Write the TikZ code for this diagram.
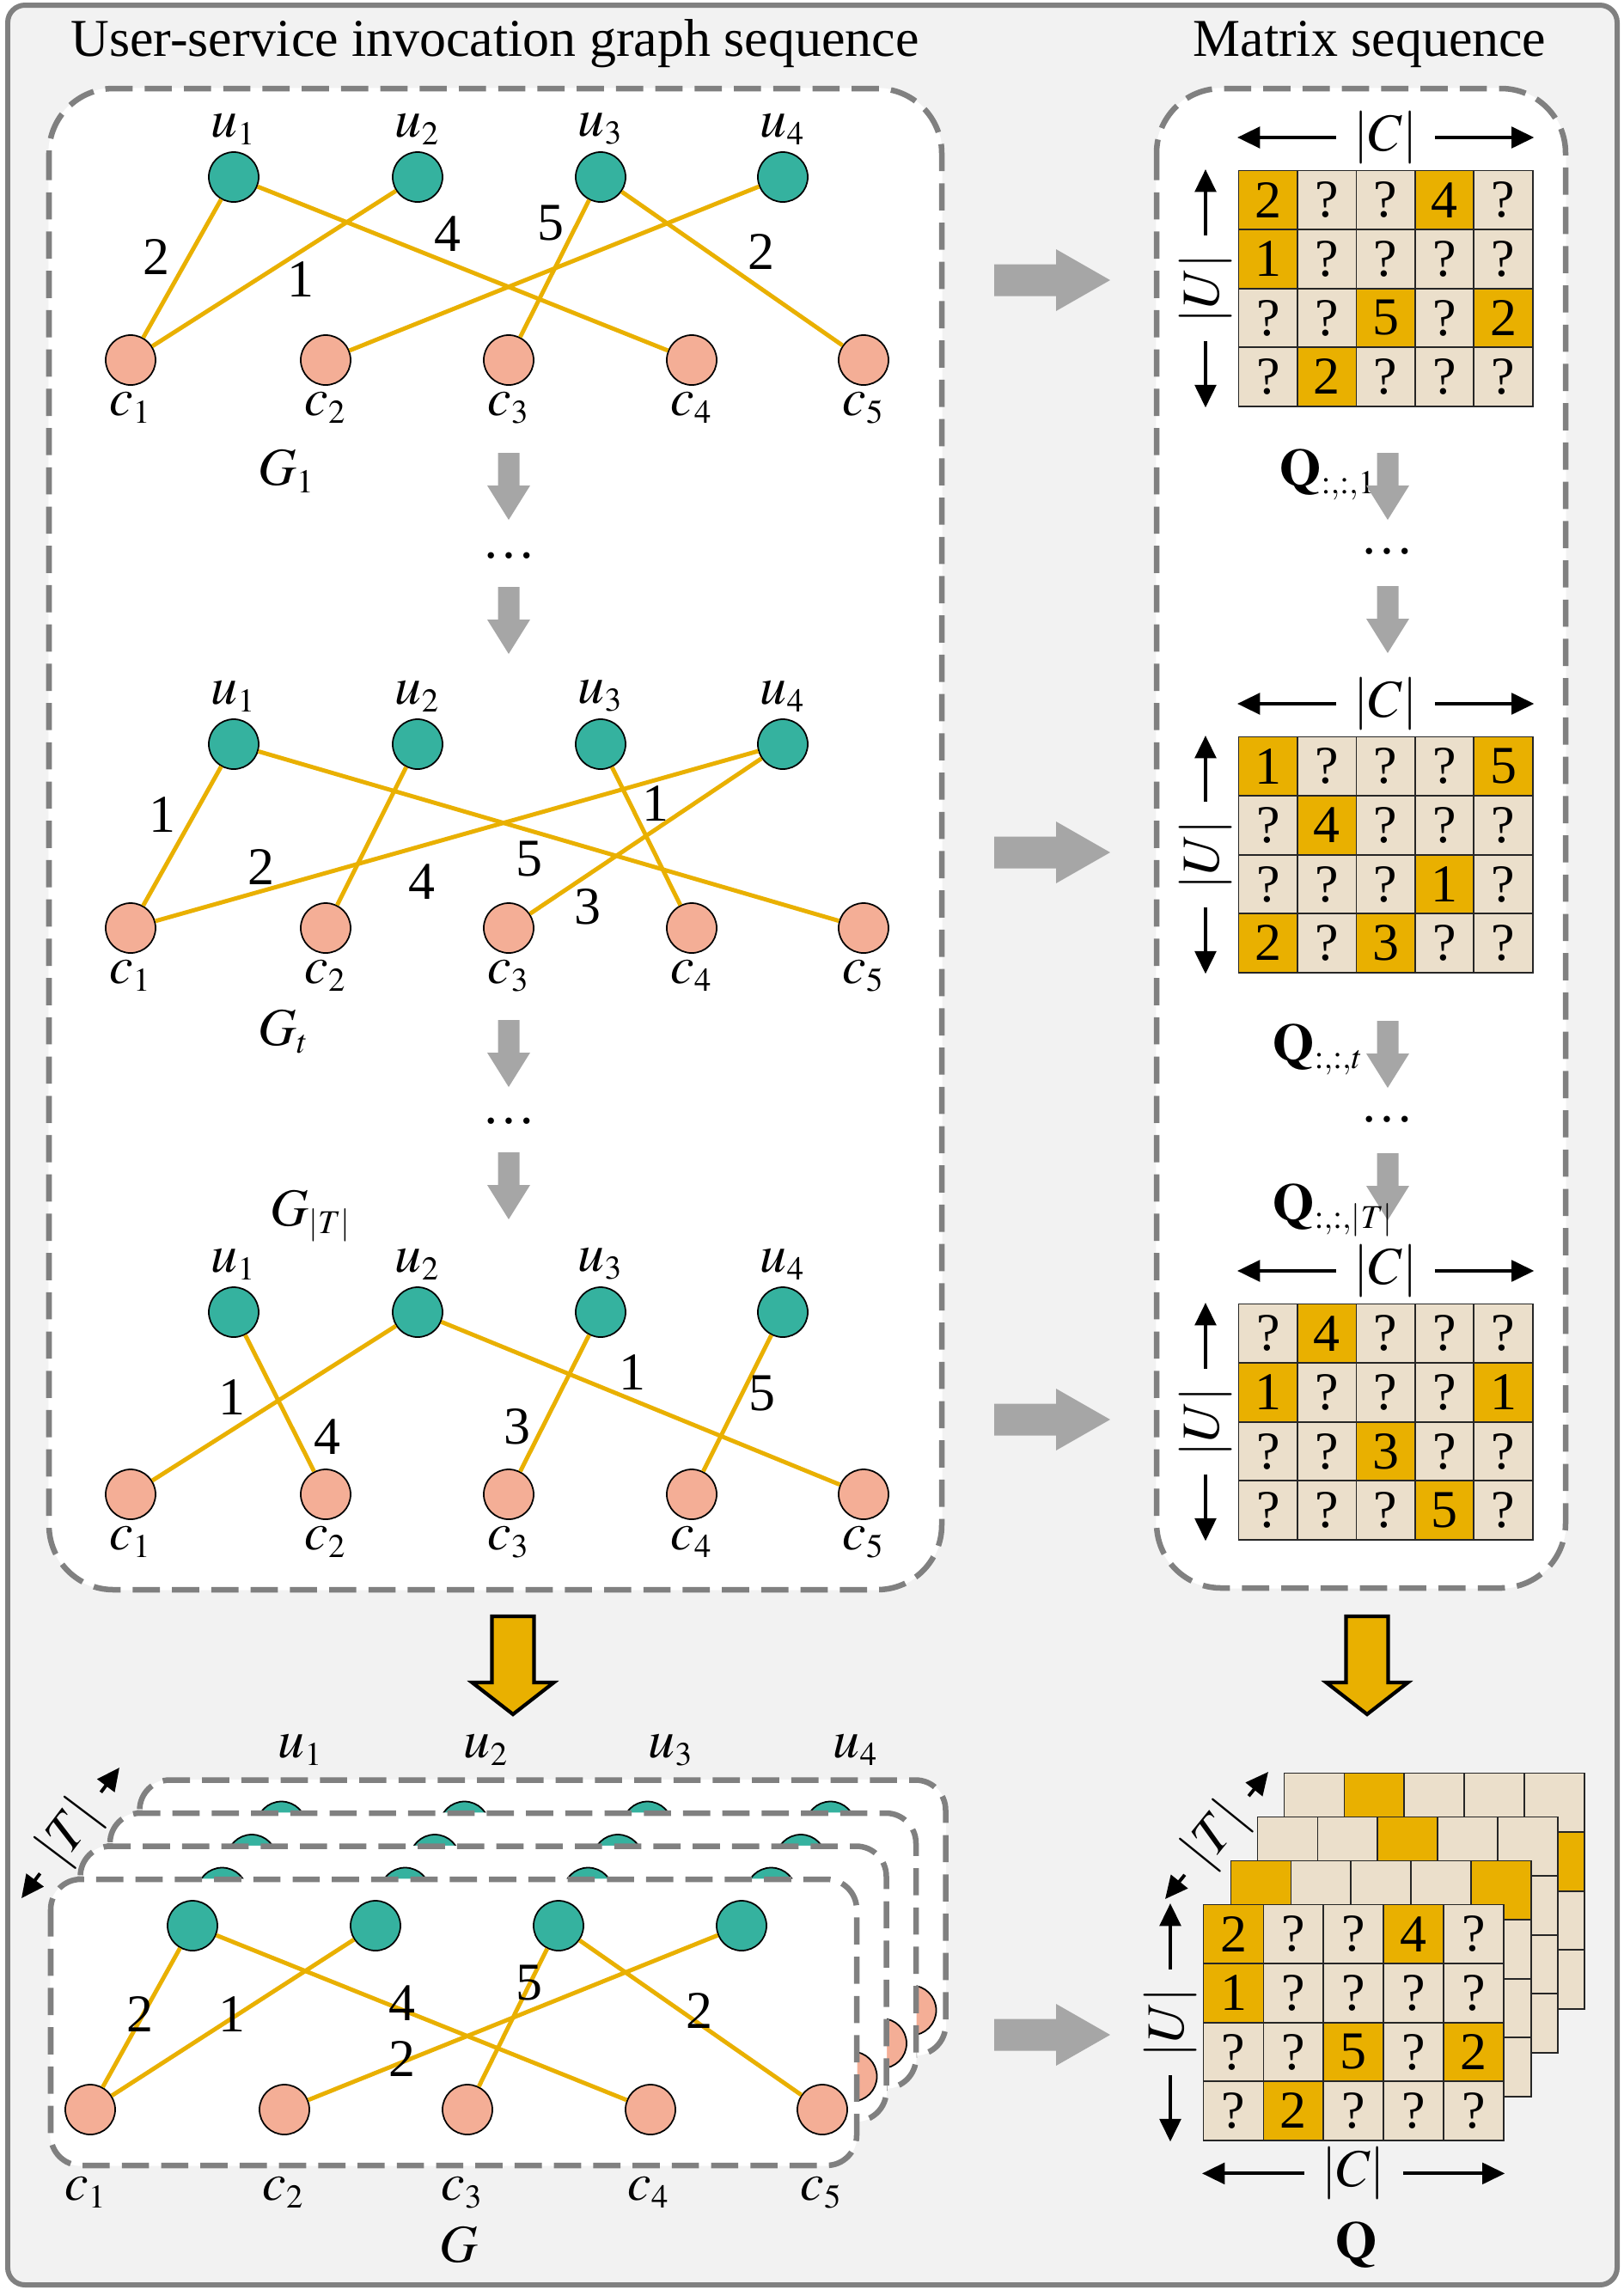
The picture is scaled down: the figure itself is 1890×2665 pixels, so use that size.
\documentclass[tikz,border=0pt]{standalone}
\usepackage{mathptmx}
\usepackage{fontspec}
\setmainfont{Liberation Serif}
\usetikzlibrary{matrix,arrows.meta}
\DeclareMathSizes{17.6}{17.6}{11}{8}

\definecolor{bggray}{HTML}{F2F2F2}
\definecolor{framegray}{HTML}{808080}
\definecolor{arrowgray}{HTML}{A6A6A6}
\definecolor{tealU}{HTML}{35B29F}
\definecolor{salmonC}{HTML}{F4AE96}
\definecolor{gold}{HTML}{E9B000}
\definecolor{cellbeige}{HTML}{EBDFCB}

\begin{document}
\begin{tikzpicture}[x=0.01cm,y=-0.01cm,font=\fontsize{17.6}{21}\selectfont]
      \useasboundingbox (0,0) rectangle (1890,2665);
      % Styles
      \tikzset{VertexU/.style = {circle,draw=black,line width=0.5pt,fill=tealU,minimum size=0.58cm,inner sep=0pt,label distance=0.03cm}}
      \tikzset{VertexC/.style = {VertexU,fill=salmonC,label distance=0.07cm}}
      \tikzset{every label/.style = {inner sep=2pt}}
      \tikzset{EdgeStyle/.style = {draw=gold,line width=1.4pt}}
      \tikzset{Weight/.style = {inner sep=0pt}}
      \tikzset{DashBox/.style = {draw=framegray,line width=1.85pt,dash pattern=on 9pt off 4pt,fill=white,preaction={draw=white,solid}}}
      \tikzset{Cell/.style = {draw=black!85,line width=0.5pt,fill=cellbeige,minimum width=0.684cm,minimum height=0.685cm,inner sep=0pt,anchor=center}}
      \tikzset{CellWide/.style = {Cell,minimum width=0.698cm}}
      \tikzset{Hit/.style = {fill=gold}}
      \tikzset{QMat/.style = {matrix of nodes,nodes={Cell},nodes in empty cells,column sep=-0.5pt,row sep=-0.5pt,inner sep=0pt,anchor=north west}}
      \tikzset{QMatWide/.style = {QMat,nodes={CellWide}}}
      \tikzset{DimLabel/.style = {inner xsep=0.2cm,inner ysep=0pt}}
      \tikzset{DimArrow/.style = {line width=1.1pt,>={Triangle[length=7.5pt,width=7pt]}}}
      \tikzset{DownArrow/.pic = {\fill[arrowgray] (-12.5,0) -- (12.5,0) -- (12.5,38) -- (25,38) -- (0,78) -- (-25,38) -- (-12.5,38) -- cycle;}}
      \tikzset{RightArrow/.pic = {\fill[arrowgray] (0,-18.5) -- (72,-18.5) -- (72,-36) -- (135,0) -- (72,36) -- (72,18.5) -- (0,18.5) -- cycle;}}
      \tikzset{MergeArrow/.pic = {\filldraw[fill=gold,draw=black,line width=1.2pt] (-24.5,0) -- (24.5,0) -- (24.5,77) -- (47.5,77) -- (0,114) -- (-47.5,77) -- (-24.5,77) -- cycle;}}

      % Frame and titles
      \draw[draw=framegray,line width=1.7pt,fill=bggray,rounded corners=0.2cm] (9,6) rectangle (1882,2659);
      \node[anchor=base] (titleG) at (576,65) {User-service invocation graph sequence};
      \node[anchor=base] (titleQ) at (1594,65) {Matrix sequence};
      \draw[DashBox,rounded corners=0.75cm] (57,103) rectangle (1096,1850);
      \draw[DashBox,rounded corners=0.75cm] (1346,103) rectangle (1822,1848);

      % Vertices G_1
      \node[VertexU,label={above:$u_1$}] (au1) at (272,206) {};
      \node[VertexU,label={above:$u_2$}] (au2) at (486,206) {};
      \node[VertexU,label={above:$u_3$}] (au3) at (699,206) {};
      \node[VertexU,label={above:$u_4$}] (au4) at (911,206) {};
      \node[VertexC,label={below:$c_1$}] (ac1) at (152,419) {};
      \node[VertexC,label={below:$c_2$}] (ac2) at (379,419) {};
      \node[VertexC,label={below:$c_3$}] (ac3) at (592,419) {};
      \node[VertexC,label={below:$c_4$}] (ac4) at (805,419) {};
      \node[VertexC,label={below:$c_5$}] (ac5) at (1005,419) {};
      % Edges G_1
      \draw[EdgeStyle] (au1) -- (ac1);
      \draw[EdgeStyle] (au1) -- (ac4);
      \draw[EdgeStyle] (au2) -- (ac1);
      \draw[EdgeStyle] (au3) -- (ac3);
      \draw[EdgeStyle] (au3) -- (ac5);
      \draw[EdgeStyle] (au4) -- (ac2);
      \node[Weight] (aw1) at (182,299) {2};
      \node[Weight] (aw2) at (350,325) {1};
      \node[Weight] (aw3) at (521,272) {4};
      \node[Weight] (aw4) at (641,260) {5};
      \node[Weight] (aw5) at (886,293) {2};
      \node[anchor=base west,inner sep=0pt] (gone) at (300,564) {$G_1$};

      % Vertices G_t
      \node[VertexU,label={above:$u_1$}] (bu1) at (272,866) {};
      \node[VertexU,label={above:$u_2$}] (bu2) at (486,866) {};
      \node[VertexU,label={above:$u_3$}] (bu3) at (699,866) {};
      \node[VertexU,label={above:$u_4$}] (bu4) at (911,866) {};
      \node[VertexC,label={below:$c_1$}] (bc1) at (152,1080) {};
      \node[VertexC,label={below:$c_2$}] (bc2) at (379,1080) {};
      \node[VertexC,label={below:$c_3$}] (bc3) at (592,1080) {};
      \node[VertexC,label={below:$c_4$}] (bc4) at (805,1080) {};
      \node[VertexC,label={below:$c_5$}] (bc5) at (1005,1080) {};
      % Edges G_t
      \draw[EdgeStyle] (bu1) -- (bc1);
      \draw[EdgeStyle] (bu1) -- (bc5);
      \draw[EdgeStyle] (bu2) -- (bc2);
      \draw[EdgeStyle] (bu3) -- (bc4);
      \draw[EdgeStyle] (bu4) -- (bc1);
      \draw[EdgeStyle] (bu4) -- (bc3);
      \node[Weight] (bw1) at (189,948) {1};
      \node[Weight] (bw2) at (304,1009) {2};
      \node[Weight] (bw3) at (491,1026) {4};
      \node[Weight] (bw4) at (616,1000) {5};
      \node[Weight] (bw5) at (763,935) {1};
      \node[Weight] (bw6) at (684,1055) {3};
      \node[anchor=base west,inner sep=0pt] (gtee) at (300,1216) {$G_t$};

      % Vertices G_|T|
      \node[VertexU,label={above:$u_1$}] (cu1) at (272,1527) {};
      \node[VertexU,label={above:$u_2$}] (cu2) at (486,1527) {};
      \node[VertexU,label={above:$u_3$}] (cu3) at (699,1527) {};
      \node[VertexU,label={above:$u_4$}] (cu4) at (911,1527) {};
      \node[VertexC,label={below:$c_1$}] (cc1) at (152,1739) {};
      \node[VertexC,label={below:$c_2$}] (cc2) at (379,1739) {};
      \node[VertexC,label={below:$c_3$}] (cc3) at (592,1739) {};
      \node[VertexC,label={below:$c_4$}] (cc4) at (805,1739) {};
      \node[VertexC,label={below:$c_5$}] (cc5) at (1005,1739) {};
      % Edges G_|T|
      \draw[EdgeStyle] (cu1) -- (cc2);
      \draw[EdgeStyle] (cu2) -- (cc1);
      \draw[EdgeStyle] (cu2) -- (cc5);
      \draw[EdgeStyle] (cu3) -- (cc3);
      \draw[EdgeStyle] (cu4) -- (cc4);
      \node[Weight] (cw1) at (270,1626) {1};
      \node[Weight] (cw2) at (381,1672) {4};
      \node[Weight] (cw3) at (602,1660) {3};
      \node[Weight] (cw4) at (736,1597) {1};
      \node[Weight] (cw5) at (887,1622) {5};
      \node[anchor=base west,inner sep=0pt] (glast) at (314,1426) {$G_{|T|}$};

      % Steps between graphs
      \pic at (592,527) {DownArrow};
      \node (gdots1) at (592,647) {\dots};
      \pic at (592,683) {DownArrow};
      \pic at (592,1187) {DownArrow};
      \node (gdots2) at (592,1305) {\dots};
      \pic at (592,1341) {DownArrow};

      % Matrices
      \matrix (qone) [QMat] at (1440,197) {
        |[Hit]| 2 & ? & ? & |[Hit]| 4 & ? \\
        |[Hit]| 1 & ? & ? & ? & ? \\
        ? & ? & |[Hit]| 5 & ? & |[Hit]| 2 \\
        ? & |[Hit]| 2 & ? & ? & ? \\
      };
      \matrix (qtee) [QMat] at (1440,856) {
        |[Hit]| 1 & ? & ? & ? & |[Hit]| 5 \\
        ? & |[Hit]| 4 & ? & ? & ? \\
        ? & ? & ? & |[Hit]| 1 & ? \\
        |[Hit]| 2 & ? & |[Hit]| 3 & ? & ? \\
      };
      \matrix (qlast) [QMat] at (1440,1516) {
        ? & |[Hit]| 4 & ? & ? & ? \\
        |[Hit]| 1 & ? & ? & ? & |[Hit]| 1 \\
        ? & ? & |[Hit]| 3 & ? & ? \\
        ? & ? & ? & |[Hit]| 5 & ? \\
      };

      % Dimensions
      \node[DimLabel] (clab1) at ([yshift=0.37cm]qone.north) {$|C|$};
      \draw[DimArrow,->] (clab1) -- (clab1 -| qone.west);
      \draw[DimArrow,->] (clab1) -- (clab1 -| qone.east);
      \node[DimLabel,rotate=90] (ulab1) at ([xshift=-0.37cm]qone.west) {$|U|$};
      \draw[DimArrow,->] (ulab1) -- (ulab1 |- qone.north);
      \draw[DimArrow,->] (ulab1) -- (ulab1 |- qone.south);
      \node[DimLabel] (clab2) at ([yshift=0.37cm]qtee.north) {$|C|$};
      \draw[DimArrow,->] (clab2) -- (clab2 -| qtee.west);
      \draw[DimArrow,->] (clab2) -- (clab2 -| qtee.east);
      \node[DimLabel,rotate=90] (ulab2) at ([xshift=-0.37cm]qtee.west) {$|U|$};
      \draw[DimArrow,->] (ulab2) -- (ulab2 |- qtee.north);
      \draw[DimArrow,->] (ulab2) -- (ulab2 |- qtee.south);
      \node[DimLabel] (clab3) at ([yshift=0.37cm]qlast.north) {$|C|$};
      \draw[DimArrow,->] (clab3) -- (clab3 -| qlast.west);
      \draw[DimArrow,->] (clab3) -- (clab3 -| qlast.east);
      \node[DimLabel,rotate=90] (ulab3) at ([xshift=-0.37cm]qlast.west) {$|U|$};
      \draw[DimArrow,->] (ulab3) -- (ulab3 |- qlast.north);
      \draw[DimArrow,->] (ulab3) -- (ulab3 |- qlast.south);

      % Steps between matrices
      \node[anchor=base west,inner sep=0pt] (qname1) at (1489,565) {$\mathbf{Q}_{:,:,1}$};
      \pic at (1615,527) {DownArrow};
      \node (qdots1) at (1614,642) {\dots};
      \pic at (1615,682) {DownArrow};
      \node[anchor=base west,inner sep=0pt] (qname2) at (1481,1234) {$\mathbf{Q}_{:,:,t}$};
      \pic at (1615,1188) {DownArrow};
      \node (qdots2) at (1614,1303) {\dots};
      \pic at (1615,1342) {DownArrow};
      \node[anchor=base west,inner sep=0pt] (qname3) at (1481,1420) {$\mathbf{Q}_{:,:,|T|}$};

      % Graph to matrix
      \pic at (1157,326) {RightArrow};
      \pic at (1157,992) {RightArrow};
      \pic at (1157,1652) {RightArrow};
      \pic at (1157,2368) {RightArrow};
      \pic at (597,1881) {MergeArrow};
      \pic at (1591,1881) {MergeArrow};

      % Stacked graph G
      \begin{scope}[shift={(103.5,-115.5)}]
        \draw[DashBox,rounded corners=0.35cm] (59,2187) rectangle (997,2507);
        \node[VertexU] (su31) at (224,2241) {};
        \node[VertexU] (su32) at (437,2241) {};
        \node[VertexU] (su33) at (650,2241) {};
        \node[VertexU] (su34) at (863,2241) {};
        \node[VertexC] (sc35) at (957,2455) {};
      \end{scope}
      \begin{scope}[shift={(69,-77)}]
        \draw[DashBox,rounded corners=0.35cm] (59,2187) rectangle (997,2507);
        \node[VertexU] (su21) at (224,2241) {};
        \node[VertexU] (su22) at (437,2241) {};
        \node[VertexU] (su23) at (650,2241) {};
        \node[VertexU] (su24) at (863,2241) {};
        \node[VertexC] (sc25) at (957,2455) {};
      \end{scope}
      \begin{scope}[shift={(34.5,-38.5)}]
        \draw[DashBox,rounded corners=0.35cm] (59,2187) rectangle (997,2507);
        \node[VertexU] (su11) at (224,2241) {};
        \node[VertexU] (su12) at (437,2241) {};
        \node[VertexU] (su13) at (650,2241) {};
        \node[VertexU] (su14) at (863,2241) {};
        \node[VertexC] (sc15) at (957,2455) {};
      \end{scope}
      \draw[DashBox,rounded corners=0.35cm] (59,2187) rectangle (997,2520);
      % Vertices G
      \node[VertexU] (du1) at (224,2241) {};
      \node[VertexU] (du2) at (437,2241) {};
      \node[VertexU] (du3) at (650,2241) {};
      \node[VertexU] (du4) at (863,2241) {};
      \node[VertexC] (dc1) at (105,2455) {};
      \node[VertexC] (dc2) at (331,2455) {};
      \node[VertexC] (dc3) at (544,2455) {};
      \node[VertexC] (dc4) at (757,2455) {};
      \node[VertexC] (dc5) at (957,2455) {};
      % Edges G
      \draw[EdgeStyle] (du1) -- (dc1);
      \draw[EdgeStyle] (du1) -- (dc4);
      \draw[EdgeStyle] (du2) -- (dc1);
      \draw[EdgeStyle] (du3) -- (dc3);
      \draw[EdgeStyle] (du3) -- (dc5);
      \draw[EdgeStyle] (du4) -- (dc2);
      \node[Weight] (dw1) at (163,2344) {2};
      \node[Weight] (dw2) at (270,2344) {1};
      \node[Weight] (dw3) at (468,2331) {4};
      \node[Weight] (dw4) at (616,2308) {5};
      \node[Weight] (dw5) at (468,2396) {2};
      \node[Weight] (dw6) at (814,2340) {2};
      \node[anchor=base] (dlu1) at (350,2045) {$u_1$};
      \node[anchor=base] (dlu2) at (566,2045) {$u_2$};
      \node[anchor=base] (dlu3) at (781,2045) {$u_3$};
      \node[anchor=base] (dlu4) at (996,2045) {$u_4$};
      \node[anchor=base] (dlc1) at (100,2560) {$c_1$};
      \node[anchor=base] (dlc2) at (330,2560) {$c_2$};
      \node[anchor=base] (dlc3) at (538,2560) {$c_3$};
      \node[anchor=base] (dlc4) at (755,2560) {$c_4$};
      \node[anchor=base] (dlc5) at (956,2560) {$c_5$};
      \node[anchor=base] (gall) at (534,2632) {$G$};
      \node[DimLabel,rotate=53] (tlab1) at (82,2133) {$|T|$};
      \coordinate (tlow1) at (25,2209);
      \coordinate (thigh1) at (139,2057);
      \draw[DimArrow,->] (tlab1) -- (tlow1);
      \draw[DimArrow,->] (tlab1) -- (thigh1);

      % Stacked tensor Q
      \matrix (qbackC) [QMatWide] at (1493,2062) {
        & |[Hit]| & & & \\
        & & & & |[Hit]| \\
        & & & & \\
        & & & & \\
      };
      \matrix (qbackB) [QMatWide] at (1462,2113) {
        & & |[Hit]| & & \\
        & & & & \\
        & & & & \\
        & & & & \\
      };
      \matrix (qbackA) [QMatWide] at (1431,2164) {
        |[Hit]| & & & & |[Hit]| \\
        & & & & \\
        & & & & \\
        & & & & \\
      };
      \matrix (qfront) [QMatWide] at (1399,2215) {
        |[Hit]| 2 & ? & ? & |[Hit]| 4 & ? \\
        |[Hit]| 1 & ? & ? & ? & ? \\
        ? & ? & |[Hit]| 5 & ? & |[Hit]| 2 \\
        ? & |[Hit]| 2 & ? & ? & ? \\
      };
      \node[DimLabel] (clab4) at ([yshift=-0.37cm]qfront.south) {$|C|$};
      \draw[DimArrow,->] (clab4) -- (clab4 -| qfront.west);
      \draw[DimArrow,->] (clab4) -- (clab4 -| qfront.east);
      \node[DimLabel,rotate=90] (ulab4) at ([xshift=-0.37cm]qfront.west) {$|U|$};
      \draw[DimArrow,->] (ulab4) -- (ulab4 |- qfront.north);
      \draw[DimArrow,->] (ulab4) -- (ulab4 |- qfront.south);
      \node[DimLabel,rotate=51] (tlab2) at (1416,2136) {$|T|$};
      \coordinate (tlow2) at (1356,2210);
      \coordinate (thigh2) at (1476,2062);
      \draw[DimArrow,->] (tlab2) -- (tlow2);
      \draw[DimArrow,->] (tlab2) -- (thigh2);
      \node[anchor=base] (qall) at (1579,2628) {$\mathbf{Q}$};
\end{tikzpicture}
\end{document}
